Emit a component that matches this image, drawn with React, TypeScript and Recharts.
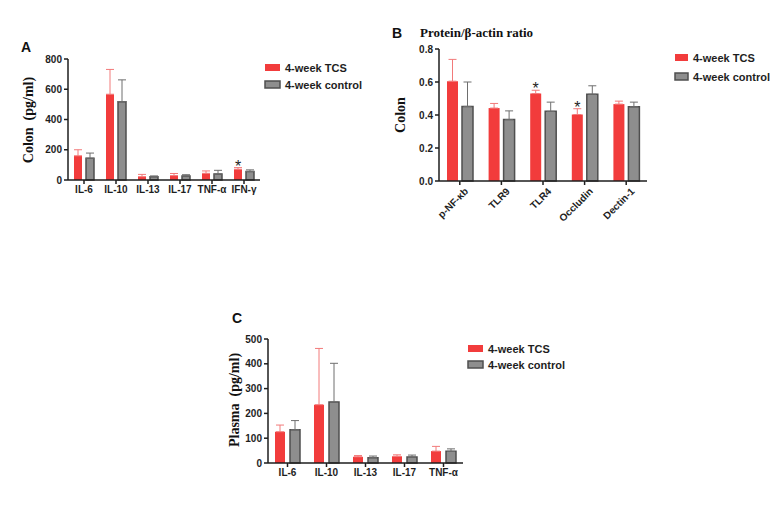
import React from 'react';
import { BarChart, Bar, XAxis, YAxis, ErrorBar, LabelList } from 'recharts';

const TCS_COLOR = '#f23c3c';
const TCS_ERR = '#f27a7a';
const CTRL_COLOR = '#8e8e8e';
const CTRL_EDGE = '#4f4f4f';
const AXIS = '#1e1e1e';
const SANS = '"Liberation Sans", Arial, sans-serif';
const SERIF = '"Liberation Serif", "Times New Roman", serif';

// Panel A: colon cytokines (pg/ml)
const colonCytokines = ['IL-6', 'IL-10', 'IL-13', 'IL-17', 'TNF-α', 'IFN-γ'];
const colonTcs = [160, 567, 22, 29, 44, 71];
const colonTcsErr = [40, 164, 15, 14, 16, 11];
const colonCtrl = [144, 518, 22, 27, 40, 56];
const colonCtrlErr = [34, 144, 5, 8, 24, 11];
const colonSig = ['', '', '', '', '', '*'];
const colonTicks = [0, 200, 400, 600, 800];

// Panel B: protein / beta-actin ratio
const proteinTargets = ['p-NF-κb', 'TLR9', 'TLR4', 'Occludin', 'Dectin-1'];
const proteinTcs = [0.605, 0.442, 0.53, 0.403, 0.466];
const proteinTcsErr = [0.132, 0.028, 0.02, 0.035, 0.018];
const proteinCtrl = [0.452, 0.372, 0.422, 0.526, 0.45];
const proteinCtrlErr = [0.148, 0.053, 0.056, 0.051, 0.028];
const proteinSig = ['', '', '*', '*', ''];
const proteinTicks = [0, 0.2, 0.4, 0.6, 0.8];

// Panel C: plasma cytokines (pg/ml)
const plasmaCytokines = ['IL-6', 'IL-10', 'IL-13', 'IL-17', 'TNF-α'];
const plasmaTcs = [126, 235, 25, 27, 48];
const plasmaTcsErr = [27, 227, 5, 6, 19];
const plasmaCtrl = [134, 246, 21, 24, 47];
const plasmaCtrlErr = [37, 156, 7, 8, 10];
const plasmaSig = ['', '', '', '', ''];
const plasmaTicks = [0, 100, 200, 300, 400, 500];

function buildRows(cats: string[], tcs: number[], tcsErr: number[], ctrl: number[], ctrlErr: number[], sig: string[]) {
  return cats.map((name, i) => ({
    name,
    tcs: tcs[i],
    tcsErr: [0, tcsErr[i]],
    ctrl: ctrl[i],
    ctrlErr: [0, ctrlErr[i]],
    sig: sig[i],
  }));
}

const colonData = buildRows(colonCytokines, colonTcs, colonTcsErr, colonCtrl, colonCtrlErr, colonSig);
const proteinData = buildRows(proteinTargets, proteinTcs, proteinTcsErr, proteinCtrl, proteinCtrlErr, proteinSig);
const plasmaData = buildRows(plasmaCytokines, plasmaTcs, plasmaTcsErr, plasmaCtrl, plasmaCtrlErr, plasmaSig);

const tickStyle = { fontSize: 10, fontWeight: 'bold', fill: AXIS, fontFamily: SANS };

function AngledTick(props: any) {
  const { x, y, payload } = props;
  return (
    <g transform={`translate(${x + 4},${y})`}>
      <text x={0} y={0} dy="0.71em" textAnchor="end" transform="rotate(-45)" style={tickStyle}>
        {payload.value}
      </text>
    </g>
  );
}

interface PanelProps {
  data: any[];
  left: number;
  top: number;
  width: number;
  height: number;
  margin: { top: number; right: number; bottom: number; left: number };
  yWidth: number;
  xHeight: number;
  ticks: number[];
  errKey: (d: any) => number;
  barSize: number;
  barGap: number;
  angled?: boolean;
  decimals?: number;
}

function Panel(p: PanelProps) {
  const starLabel = (props: any) => {
    const { x, y, width, height, value, index } = props;
    if (!value) return null;
    const row = p.data[index];
    const perUnit = row.tcs ? height / row.tcs : 0;
    const top = y - row.tcsErr[1] * perUnit;
    return (
      <text x={x + width / 2} y={top + 4} textAnchor="middle" style={{ fontSize: 16, fontFamily: SANS, fill: AXIS }}>
        {value}
      </text>
    );
  };
  return (
    <div style={{ position: 'absolute', left: p.left, top: p.top }}>
      <BarChart width={p.width} height={p.height} data={p.data} margin={p.margin} barGap={p.barGap}>
        <XAxis
          dataKey="name"
          interval={0}
          height={p.xHeight}
          tickSize={4}
          tickLine={{ stroke: AXIS, strokeWidth: 1.5 }}
          axisLine={{ stroke: AXIS, strokeWidth: 1.5 }}
          tick={p.angled ? <AngledTick /> : tickStyle}
        />
        <YAxis
          width={p.yWidth}
          domain={[p.ticks[0], p.ticks[p.ticks.length - 1]]}
          ticks={p.ticks}
          interval={0}
          tickSize={4}
          tickFormatter={(v: number) => (p.decimals ? v.toFixed(p.decimals) : String(v))}
          tickLine={{ stroke: AXIS, strokeWidth: 1.5 }}
          axisLine={{ stroke: AXIS, strokeWidth: 1.5 }}
          tick={tickStyle}
        />
        <Bar dataKey="tcs" fill={TCS_COLOR} barSize={p.barSize} isAnimationActive={false}>
          <ErrorBar dataKey="tcsErr" width={4} stroke={TCS_ERR} strokeWidth={1} direction="y" />
          <LabelList dataKey="sig" content={starLabel} />
        </Bar>
        <Bar dataKey="ctrl" fill={CTRL_COLOR} stroke={CTRL_EDGE} strokeWidth={1.5} barSize={p.barSize} isAnimationActive={false}>
          <ErrorBar dataKey="ctrlErr" width={4} stroke="#6e6e6e" strokeWidth={1} direction="y" />
        </Bar>
      </BarChart>
    </div>
  );
}

function Legend({ x, y, gap, sw }: { x: number; y: number; gap: number; sw: number }) {
  const items = [
    { label: '4-week TCS', fill: TCS_COLOR, stroke: 'none' },
    { label: '4-week control', fill: CTRL_COLOR, stroke: CTRL_EDGE },
  ];
  return (
    <g>
      {items.map((it, i) => (
        <g key={it.label}>
          <rect x={x} y={y + i * gap} width={sw} height={7} fill={it.fill} stroke={it.stroke} strokeWidth={1.5} />
          <text x={x + sw + 5} y={y + i * gap + 7.5} style={{ fontSize: 11, fontWeight: 'bold', fontFamily: SANS, fill: AXIS }}>
            {it.label}
          </text>
        </g>
      ))}
    </g>
  );
}

export default function App() {
  const letter = { fontSize: 14, fontWeight: 'bold', fontFamily: SANS, fill: '#111' } as const;
  const ylab = { fontSize: 14, fontWeight: 'bold', fontFamily: SERIF, fill: '#111', whiteSpace: 'pre' } as const;
  return (
    <div style={{ position: 'absolute', left: 0, top: 0, width: 780, height: 505, background: '#fff' }}>
      <Panel
        data={colonData}
        left={0}
        top={0}
        width={380}
        height={210}
        margin={{ top: 59, right: 120, bottom: 10, left: 28 }}
        yWidth={40}
        xHeight={20}
        ticks={colonTicks}
        errKey={(d) => d.tcsErr}
        barSize={8}
        barGap={4}
      />
      <Panel
        data={proteinData}
        left={380}
        top={0}
        width={400}
        height={250}
        margin={{ top: 49, right: 133, bottom: 9, left: 19 }}
        yWidth={40}
        xHeight={60}
        ticks={proteinTicks}
        errKey={(d) => d.tcsErr}
        barSize={11}
        barGap={4}
        angled
        decimals={1}
      />
      <Panel
        data={plasmaData}
        left={220}
        top={290}
        width={360}
        height={200}
        margin={{ top: 49, right: 117, bottom: 7, left: 8 }}
        yWidth={40}
        xHeight={20}
        ticks={plasmaTicks}
        errKey={(d) => d.tcsErr}
        barSize={10}
        barGap={5}
      />
      <svg width={780} height={505} style={{ position: 'absolute', left: 0, top: 0, pointerEvents: 'none' }}>
        <text x={21} y={52} style={letter}>A</text>
        <text x={392} y={38} style={letter}>B</text>
        <text x={232} y={323} style={letter}>C</text>
        <text x={420} y={37} style={{ fontSize: 13, fontWeight: 'bold', fontFamily: SERIF, fill: '#111' }}>
          Protein/β-actin ratio
        </text>
        <text transform="translate(33,120) rotate(-90)" textAnchor="middle" style={ylab}>
          {'Colon  (pg/ml)'}
        </text>
        <text transform="translate(405,115) rotate(-90)" textAnchor="middle" style={ylab}>
          Colon
        </text>
        <text transform="translate(239,400) rotate(-90)" textAnchor="middle" style={ylab}>
          {'Plasma  (pg/ml)'}
        </text>
        <Legend x={265} y={64} gap={17} sw={15} />
        <Legend x={675} y={54} gap={19} sw={13} />
        <Legend x={468} y={345} gap={16} sw={15} />
      </svg>
    </div>
  );
}
